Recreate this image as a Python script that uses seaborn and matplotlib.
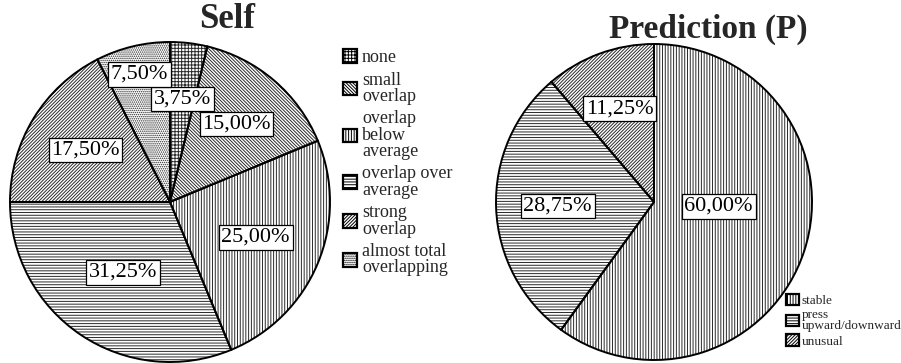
import matplotlib
matplotlib.use("Agg")
import matplotlib.pyplot as plt
import matplotlib.patches as mpatches
import numpy as np
import seaborn as sns

# ---- data ----
self_labels = ["none", "small\noverlap", "overlap\nbelow\naverage",
               "overlap over\naverage", "strong\noverlap", "almost total\noverlapping"]
self_values = [3.75, 15.00, 25.00, 31.25, 17.50, 7.50]

pred_labels = ["stable", "press\nupward/downward", "unusual"]
pred_values = [60.00, 28.75, 11.25]

# ---- style ----
self_hatches = ["+++++", "\\" * 10, "||||||", "------", "/" * 10, "........"]
pred_hatches = ["||||||", "------", "/" * 10]
self_label_r = [0.65, 0.64, 0.58, 0.53, 0.62, 0.82]
self_label_nudge = [0, 0, 0, 0, 0, 0]
pred_label_r = [0.41, 0.61, 0.63]
pred_label_nudge = [14, 0, 0]

sns.set_theme(style="white")
plt.rcParams["font.family"] = ["Liberation Serif", "DejaVu Serif"]
plt.rcParams["hatch.linewidth"] = 0.7
plt.rcParams["hatch.color"] = "#2a2a2a"

W, H = 901, 363
fig = plt.figure(figsize=(W / 100, H / 100), dpi=100)
fig.patch.set_facecolor("white")


def pie_axes(cx, cy, r, lim=1.03):
    half = r * lim
    ax = fig.add_axes([(cx - half) / W, (H - cy - half) / H, 2 * half / W, 2 * half / H])
    return ax, lim


def fmt(v):
    return f"{v:.2f}".replace(".", ",") + "%"


def draw_pie(ax, lim, values, hatches, radii, nudges):
    # hatched fill layer
    wedges, _ = ax.pie(values, startangle=90, counterclock=False,
                       colors=["white"] * len(values),
                       wedgeprops=dict(linewidth=0, edgecolor="#2a2a2a"))
    for w, h in zip(wedges, hatches):
        w.set_hatch(h)
    # outline layer
    ax.pie(values, startangle=90, counterclock=False,
           wedgeprops=dict(fill=False, linewidth=1.4, edgecolor="black"))
    for w, v, r, n in zip(wedges, values, radii, nudges):
        ang = np.deg2rad((w.theta1 + w.theta2) / 2 + n)
        ax.text(r * np.cos(ang), r * np.sin(ang), fmt(v), ha="center", va="center",
                fontsize=16, color="black",
                bbox=dict(boxstyle="square,pad=0.12", facecolor="white",
                          edgecolor="black", linewidth=0.9))
    ax.set_xlim(-lim, lim)
    ax.set_ylim(-lim, lim)
    ax.set_aspect("equal")
    ax.axis("off")


ax1, lim1 = pie_axes(170, 202, 160)
draw_pie(ax1, lim1, self_values, self_hatches, self_label_r, self_label_nudge)
ax2, lim2 = pie_axes(654, 202, 158)
draw_pie(ax2, lim2, pred_values, pred_hatches, pred_label_r, pred_label_nudge)

fig.text(227 / W, 1 - 28 / H, "Self", ha="center", va="baseline",
         fontsize=25, fontweight="bold")
fig.text(708 / W, 1 - 38 / H, "Prediction (P)", ha="center", va="baseline",
         fontsize=24, fontweight="bold")


def add_legend(labels, hatches, x, y, fs, hl, ls, lsp):
    handles = [mpatches.Patch(facecolor="white", edgecolor="black", hatch=h,
                              linewidth=1.6) for h in hatches]
    leg = fig.legend(handles, labels, loc="upper left",
                     bbox_to_anchor=(x / W, 1 - y / H), frameon=False,
                     fontsize=fs, handlelength=hl, handleheight=hl,
                     handletextpad=0.25, labelspacing=ls, borderpad=0,
                     borderaxespad=0)
    for t in leg.get_texts():
        t.set_linespacing(lsp)
    return leg


add_legend(self_labels, self_hatches, 343, 49, 13, 0.8, 0.3, 0.95)
add_legend(pred_labels, pred_hatches, 786, 294, 9.5, 0.95, 0.15, 0.9)

fig.savefig("out.png", dpi=100, facecolor="white")
